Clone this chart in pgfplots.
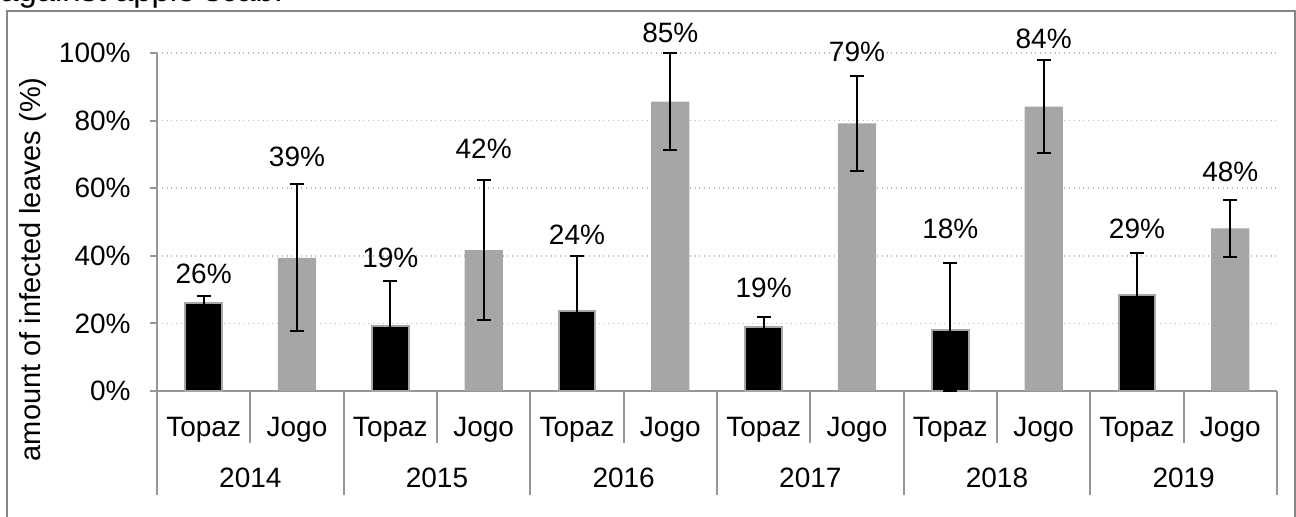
\documentclass[border=0pt]{standalone}
\usepackage{fontspec}
\setmainfont{Liberation Sans}
\usepackage{pgfplots}
\pgfplotsset{compat=1.18}
\definecolor{jogo}{RGB}{166,166,166}
\definecolor{axgray}{RGB}{150,150,150}
\definecolor{framegray}{RGB}{134,134,134}
\definecolor{gridgray}{RGB}{185,185,185}
\newcommand\fs{\fontsize{14}{16}\selectfont}
\begin{document}
\begin{tikzpicture}
\path[use as bounding box] (0,0) rectangle (648pt,-258.5pt);
\clip (0,0) rectangle (648pt,-258.5pt);
% title, cut off at the top as in the source
\node[anchor=base west, inner sep=0pt, font=\fontsize{16.4}{19}\selectfont] at (0pt,-1pt) {against apple scab.};
\draw[framegray, line width=0.8pt] (3.5pt,-320pt) -- (3.5pt,-5.5pt) -- (647.5pt,-5.5pt) -- (647.5pt,-320pt);
\begin{axis}[
  at={(78.5pt,-195.5pt)}, anchor=south west,
  scale only axis, width=560pt, height=169pt,
  xmin=0.5, xmax=12.5, ymin=0, ymax=100,
  clip=false,
  axis x line*=bottom, axis y line*=left,
  axis line style={axgray, line width=1pt, -},
  /pgf/number format/assume math mode=true,
  ytick={0,20,...,100},
  yticklabel={\pgfmathprintnumber{\tick}\%},
  ymajorgrids, grid style={gridgray, dotted, line width=0.8pt},
  tick align=outside, major tick length=3.5pt,
  ytick style={axgray, line width=1pt},
  xtick style={draw=none},
  tick label style={font=\fs},
  yticklabel style={inner sep=0pt, xshift=-9.5pt},
  xtick={1,...,12},
  xticklabels={Topaz,Jogo,Topaz,Jogo,Topaz,Jogo,Topaz,Jogo,Topaz,Jogo,Topaz,Jogo},
  xticklabel style={anchor=center, yshift=-16pt},
  extra x ticks={1.5,3.5,5.5,7.5,9.5,11.5},
  extra x tick labels={2014,2015,2016,2017,2018,2019},
  extra x tick style={xticklabel style={yshift=-24.1pt}},
  ylabel={amount of infected leaves (\%)},
  every axis y label/.style={at={(axis description cs:-0.1107,0.36)}, rotate=90, anchor=center, font=\fontsize{14.5}{17}\selectfont},
]
% Topaz (the lower bar of 2018 is cut at 0)
\addplot[ybar, bar shift=0pt, bar width=0.39, fill=black, draw=jogo, line width=1pt,
  error bars/.cd, y dir=both, y explicit, error mark=|,
  error bar style={black, line width=1pt},
  error mark options={black, mark size=3.5pt, line width=1pt}]
  coordinates {(1,26.0) +- (0,2.0) (3,19.2) +- (0,13.3) (5,23.8) +- (0,16.1)
               (7,18.8) +- (0,3.0) (9,18.0) += (0,20.0) -= (0,18.0) (11,28.5) +- (0,12.3)};
% Jogo
\addplot[ybar, bar shift=0pt, bar width=0.41, fill=jogo, draw=none,
  error bars/.cd, y dir=both, y explicit, error mark=|,
  error bar style={black, line width=1pt},
  error mark options={black, mark size=3.5pt, line width=1pt}]
  coordinates {(2,39.4) +- (0,21.7) (4,41.7) +- (0,20.7) (6,85.6) +- (0,14.3)
               (8,79.2) +- (0,14.0) (10,84.1) +- (0,13.8) (12,48.1) +- (0,8.4)};
% data labels
\addplot[only marks, mark=*, mark size=0pt, mark options={draw=none, fill=none},
  nodes near coords, point meta=explicit symbolic,
  every node near coord/.append style={anchor=center, font=\fs, inner sep=0pt}]
  coordinates {(1,34.6) [26\%] (2,69.4) [39\%] (3,39.3) [19\%] (4,71.7) [42\%]
               (5,46.2) [24\%] (6,106.1) [85\%] (7,30.4) [19\%] (8,100.4) [79\%]
               (9,48.0) [18\%] (10,104.3) [84\%] (11,47.9) [29\%] (12,64.7) [48\%]};
% category separators
\pgfplotsinvokeforeach{0.5,2.5,4.5,6.5,8.5,10.5,12.5}{
  \draw[axgray, line width=1pt] (axis cs:#1,0) -- ++(0pt,-52pt);}
\pgfplotsinvokeforeach{1.5,3.5,5.5,7.5,9.5,11.5}{
  \draw[axgray, line width=1pt] (axis cs:#1,0) -- ++(0pt,-26pt);}
\end{axis}
\end{tikzpicture}
\end{document}
